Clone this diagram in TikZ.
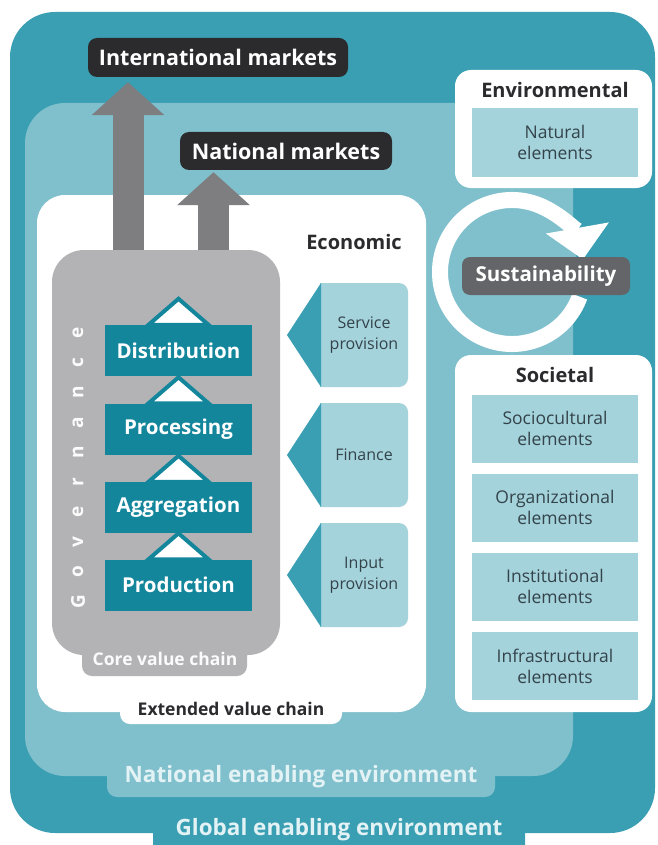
\documentclass[tikz,border=0pt]{standalone}
\usepackage{fontspec}
\setmainfont{Open Sans}
\usetikzlibrary{arrows.meta}
\definecolor{globalteal}{HTML}{3A9FB3}
\definecolor{nationalteal}{HTML}{80C0CC}
\definecolor{stepteal}{HTML}{13869C}
\definecolor{elemblue}{HTML}{A4D3DC}
\definecolor{coregray}{HTML}{B3B3B6}
\definecolor{arrowgray}{HTML}{7E7E81}
\definecolor{marketdark}{HTML}{2B2B2E}
\definecolor{sustgray}{HTML}{646568}
\definecolor{textslate}{HTML}{34434A}
\definecolor{labelwhite}{HTML}{E2F2F5}
\newcommand{\FontAt}[2]{\fontsize{#1}{#2}\selectfont}
% side tab of the extended chain, #1 = centre line
\newcommand{\SideTab}[1]{%
  \fill[elemblue] (320,#1-52) [rounded corners=9pt] -- (408,#1-52) -- (408,#1+52) [sharp corners] -- (320,#1+52) -- cycle;
  \fill[globalteal] (287,#1) -- (321,#1-52) -- (321,#1+52) -- cycle;}

\begin{document}
\begin{tikzpicture}[x=1pt, y=-1pt,
    market/.style={fill=marketdark, text=white, rounded corners=9pt, inner sep=0pt, font=\bfseries\FontAt{21.5}{24}},
    flow/.style={arrowgray, line width=31pt, -{Triangle[width=71pt,length=33pt]}},
    stepbox/.style={fill=stepteal, text=white, minimum width=147pt, minimum height=51pt, inner sep=0pt, font=\bfseries\FontAt{20.5}{24}},
    steptri/.style={fill=white, draw=stepteal, line width=4pt, line join=miter},
    govtext/.style={text=white!95!coregray, font=\bfseries\FontAt{19}{22}},
    sidetext/.style={text=textslate, align=center, font=\FontAt{16}{21}},
    heading/.style={text=marketdark, font=\bfseries\FontAt{20}{24}},
    panel/.style={fill=white, rounded corners=16pt},
    elembox/.style={fill=elemblue, text=textslate, align=center, minimum width=166pt, minimum height=68pt, inner sep=0pt, font=\FontAt{17.5}{21}},
    tablabel/.style={text=labelwhite, font=\bfseries\FontAt{22.5}{26}}]

\useasboundingbox (0,0) rectangle (657,845);
\clip (0,0) rectangle (657,845);

% enabling environments
\fill[globalteal, rounded corners=45pt] (10,12) rectangle (655,833);
\fill[globalteal, rounded corners=10pt] (153,815) rectangle (525,870);
\fill[nationalteal, rounded corners=40pt] (25,103) rectangle (573,776);
\fill[nationalteal, rounded corners=10pt] (107,760) rectangle (495,797);
\draw (339,830) node[tablabel] (global) {Global enabling environment};
\draw (301,777) node[tablabel] (national) {National enabling environment};

% markets
\draw (218,57.5) node[market, minimum width=260pt, minimum height=39pt] (intl) {International markets};
\draw (286,151) node[market, minimum width=212pt, minimum height=38pt] (natl) {National markets};

% extended value chain
\fill[white, rounded corners=28pt] (37,195) rectangle (426,712);
\fill[white, rounded corners=10pt] (120,690) rectangle (342,724);
\draw (231,709) node[heading, font=\bfseries\FontAt{17.5}{20}] (extended) {Extended value chain};
\draw (354,242) node[heading] (econ) {Economic};

\coordinate (intlfoot) at (128,262);
\coordinate (natlfoot) at (213.5,262);
\draw[flow, shorten >=5pt] (intlfoot) -- (intlfoot |- intl.south);
\draw[flow, shorten >=2pt] (natlfoot) -- (natlfoot |- natl.south);

% core value chain
\fill[coregray, rounded corners=32pt] (52,250) rectangle (280,655);
\fill[coregray, rounded corners=10pt] (82,630) rectangle (247,676);
\draw (165,659) node[govtext, font=\bfseries\FontAt{17.5}{20}] (core) {Core value chain};

\foreach \l [count=\i from 0] in {G,o,v,e,r,n,a,n,c,e}
    \draw (78,602-29.9*\i) node[govtext, rotate=90] (gov\i) {\l};

\draw (178.5,350.5) node[stepbox] (dist) {Distribution};
\draw (178.5,429) node[stepbox] (proc) {Processing};
\draw (178.5,507.5) node[stepbox] (aggr) {Aggregation};
\draw (178.5,585) node[stepbox] (prod) {Production};
\foreach \b in {dist,proc,aggr,prod}
    \draw[steptri] ([xshift=-30pt]\b.north) -- ([yshift=26pt]\b.north) -- ([xshift=30pt]\b.north) -- cycle;

% support services
\SideTab{335}
\SideTab{455}
\SideTab{575}
\draw (364,335) node[sidetext] (svc) {Service\\provision};
\draw (364,455) node[sidetext] (fin) {Finance};
\draw (364,575) node[sidetext] (inp) {Input\\provision};

% sustainability cycle
\fill[nationalteal] (512,272) circle (66);
\draw[white, line width=16pt, -{Triangle[width=62pt,length=32pt]}] (512,272) ++(20:72) arc[start angle=20, end angle=350, radius=72];
\draw (546,276) node[fill=sustgray, text=white, rounded corners=8pt, minimum width=168pt, minimum height=38pt, inner sep=0pt, font=\bfseries\FontAt{20.5}{24}] (sust) {Sustainability};

% environmental
\draw (553.5,129) node[panel, minimum width=197pt, minimum height=118pt] (envpanel) {};
\draw (555,90) node[heading] (envhead) {Environmental};
\draw (555,142.5) node[elembox, minimum height=69pt] (natural) {Natural\\elements};

% societal
\draw (553.5,533.5) node[panel, minimum width=197pt, minimum height=357pt] (socpanel) {};
\draw (555,375) node[heading] (sochead) {Societal};
\draw (555,428.5) node[elembox] (socio) {Sociocultural\\elements};
\draw (555,507.5) node[elembox] (organ) {Organizational\\elements};
\draw (555,586.5) node[elembox] (instit) {Institutional\\elements};
\draw (555,666) node[elembox] (infra) {Infrastructural\\elements};

\end{tikzpicture}
\end{document}
